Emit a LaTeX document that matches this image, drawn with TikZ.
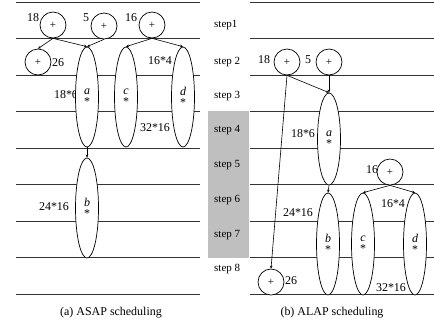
\documentclass[tikz,border=0pt]{standalone}
\usepackage{fontspec}
\setmainfont{Liberation Serif}
\usetikzlibrary{shapes.geometric,arrows.meta}
\begin{document}
\begin{tikzpicture}[x=1bp,y=-1bp,
  hline/.style={black!80,line width=0.9bp},
  plusnode/.style={circle,draw,fill=white,minimum size=26bp,inner sep=0pt,font=\fontsize{11}{11}\selectfont,line width=0.7bp},
  opnode/.style={ellipse,draw,fill=white,minimum width=23bp,inner sep=0pt,align=center,font=\fontsize{12}{12}\selectfont,line width=0.7bp},
  lbl/.style={inner sep=0pt,font=\fontsize{12}{12}\selectfont},
  steplbl/.style={inner sep=0pt,anchor=west,font=\fontsize{11}{11}\selectfont},
  captext/.style={inner sep=0pt,font=\fontsize{12}{12}\selectfont},
  arr/.style={-{Stealth[length=3bp,width=2.6bp]},line width=0.6bp}]
\useasboundingbox (0,0) rectangle (434,324);
% gray box
\fill[gray!50] (208,111) rectangle (249,258);
% horizontal lines
\foreach \y in {2,38.5,75,111.5,148,184.5,221,257.5,294.5}{
  \draw[hline] (16,\y) -- (200,\y);
  \draw[hline] (250,\y) -- (434,\y);
}
% step labels
\node[steplbl] (s1) at (214,25) {step1};
\node[steplbl] (s2) at (214,62) {step 2};
\node[steplbl] (s3) at (214,96) {step 3};
\node[steplbl] (s4) at (214,130) {step 4};
\node[steplbl] (s5) at (214,165) {step 5};
\node[steplbl] (s6) at (214,200) {step 6};
\node[steplbl] (s7) at (214,235) {step 7};
\node[steplbl] (s8) at (214,269) {step 8};
% ---------- left panel ----------
\node[lbl] (tL18) at (33,18) {18};
\node[lbl] (tL5) at (86,18) {5};
\node[lbl] (tL16) at (131,18) {16};
\node[lbl] (tL26) at (58,63) {26};
\node[lbl] (tL164) at (160,61) {16*4};
\node[lbl] (tL186) at (66,95) {18*6};
\node[lbl] (tL3216) at (155,128) {32*16};
\node[lbl] (tL2416) at (54,207) {24*16};
\node[plusnode] (pL18) at (53,25) {+};
\node[plusnode] (pL5) at (104,26) {+};
\node[plusnode] (pL16) at (152,25) {+};
\node[plusnode] (pL26) at (38,62) {+};
\node[opnode,minimum height=100bp] (aL) at (87,97) {\textit{a}\\[-1pt]*};
\node[opnode,minimum height=100bp] (cL) at (126,97) {\textit{c}\\[-1pt]*};
\node[opnode,minimum height=100bp] (dL) at (183,97) {\textit{d}\\[-1pt]*};
\node[opnode,minimum height=100bp] (bL) at (87,208) {\textit{b}\\[-1pt]*};
\draw[arr] (pL18.south) -- (pL26.north);
\draw[arr] (pL18.south) -- (aL.north);
\draw[arr] (pL5.south) -- (aL.north);
\draw[arr] (pL16.south) -- (cL.north);
\draw[arr] (pL16.south) -- (dL.north);
\draw[arr] (aL.south) -- (bL.north);
% ---------- right panel ----------
\node[lbl] (tR18) at (264,60) {18};
\node[lbl] (tR5) at (308,60) {5};
\node[lbl] (tR186) at (303,134) {18*6};
\node[lbl] (tR26) at (291,281) {26};
\node[lbl] (tR16) at (372,170) {16};
\node[lbl] (tR2416) at (298,213) {24*16};
\node[lbl] (tR164) at (393,204) {16*4};
\node[lbl] (tR3216) at (391,288) {32*16};
\node[plusnode] (pR18) at (287,62) {+};
\node[plusnode] (pR5) at (329,62) {+};
\node[plusnode] (pR16) at (390,172) {+};
\node[plusnode] (pR26) at (271,282) {+};
\node[opnode,minimum height=92bp] (aR) at (329,139) {\textit{a}\\[-1pt]*};
\node[opnode,minimum height=102bp] (bR) at (328,244) {\textit{b}\\[-1pt]*};
\node[opnode,minimum height=102bp] (cR) at (363,244) {\textit{c}\\[-1pt]*};
\node[opnode,minimum height=102bp] (dR) at (415,244) {\textit{d}\\[-1pt]*};
\draw[arr] (pR18.south) -- (aR.north);
\draw[arr] (pR5.south) -- (aR.north);
\draw[arr] (pR18.south) -- (pR26.north);
\draw[arr] (aR.south) -- (bR.north);
\draw[arr] (pR16.south) -- (cR.north);
\draw[arr] (pR16.south) -- (dR.north);
% captions
\node[captext] (capA) at (111,313) {(a) ASAP scheduling};
\node[captext] (capB) at (332,313) {(b) ALAP scheduling};
\end{tikzpicture}
\end{document}
